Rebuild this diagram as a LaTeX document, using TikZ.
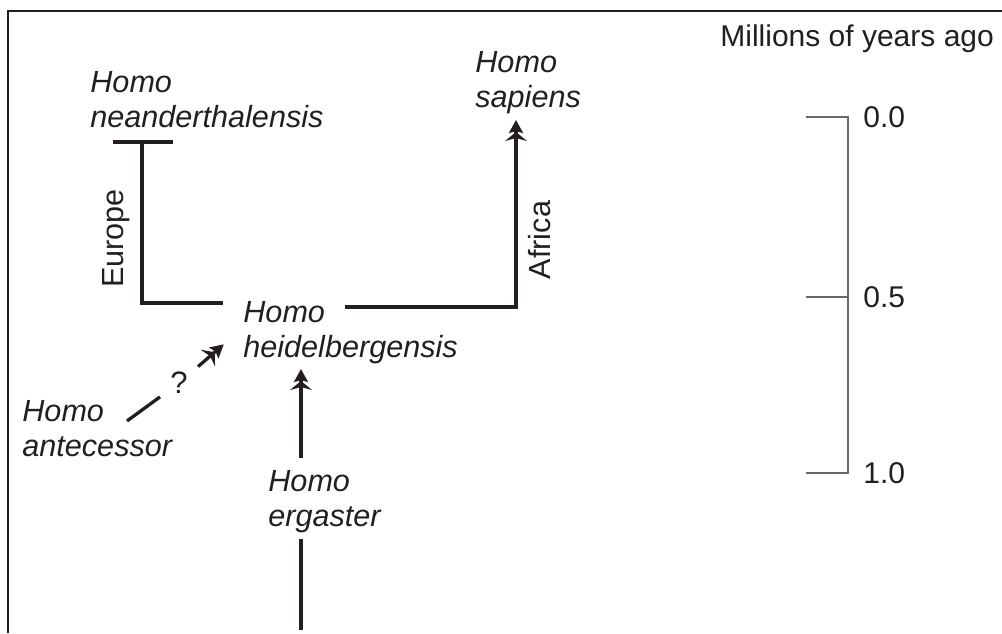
\documentclass[tikz,border=0pt]{standalone}
\usepackage{fontspec}
\setmainfont{Liberation Sans}
\usepackage{tikz}
\usetikzlibrary{arrows.meta}
\definecolor{ink}{RGB}{35,31,32}
\definecolor{rule}{RGB}{105,105,105}

\begin{document}
\begin{tikzpicture}[x=0.5pt, y=-0.5pt,
    branch/.style={ink, line width=1.65pt},
    tree/.style={-{Stealth[length=4.5pt,width=11pt,inset=1.5pt,sep=-0.5pt]Stealth[length=6.5pt,width=7pt,inset=1pt,sep=-0.5pt]}},
    species/.style={anchor=north west, inner sep=0pt, align=left, text=ink,
        font=\fontsize{15.3}{17.3}\selectfont\itshape},
    region/.style={text=ink, inner sep=5.5pt, font=\fontsize{15.3}{17.3}\selectfont},
    scalelbl/.style={text=ink, inner sep=0pt, font=\fontsize{15}{17}\selectfont}]
    \useasboundingbox (0,0) rectangle (1002,633);
    \draw[ink, line width=1pt] (8,633) |- (1002,11);

    % species
    \node[species] (nean) at (90,71) {Homo\\neanderthalensis};
    \node[species] (sap) at (475,51) {Homo\\sapiens};
    \node[species] (heid) at (243,301) {Homo\\heidelbergensis};
    \node[species] (ante) at (22,400) {Homo\\antecessor};
    \node[species] (erg) at (268,470) {Homo\\ergaster};

    \coordinate (eu) at (223,303);
    \coordinate (nt) at (142,142);
    \coordinate (af) at (345,307);
    \coordinate (sp) at (516,121);
    \coordinate (at) at (127,421);
    \coordinate (hd) at (223,345);
    \coordinate (eg) at (301,458);
    \coordinate (hb) at (301,370);
    \coordinate (eb) at (301,539);
    \coordinate (ee) at (301,630);

    % branches
    \draw[branch] (eu) -| node[region, pos=0.7, sloped, above] (eur) {Europe} (nt);
    \draw[branch] ([xshift=-14.5pt]nt) -- ([xshift=15.5pt]nt);
    \draw[branch, tree] (af) -| node[region, pos=0.68, sloped, below] (afr) {Africa} (sp);
    \node[region, inner sep=5pt, font=\fontsize{15.5}{17}\selectfont] (q) at (179,383) {?};
    \draw[branch] (at) -- (q);
    \draw[branch, tree] (q) -- (hd);
    \draw[branch, tree] (eg) -- (hb);
    \draw[branch] (eb) -- (ee);

    % time scale
    \node[scalelbl, anchor=base west] (mya) at (720,46) {Millions of years ago};
    \draw[rule, line width=0.6pt] (806,117) -| (848,473) -- (806,473);
    \foreach \y/\t [count=\i] in {117/0.0, 297/0.5, 473/1.0} {
        \draw[rule, line width=0.6pt] (806,\y) -- (848,\y);
        \node[scalelbl, anchor=west] (tk\i) at (863,\y) {\t};
    }
\end{tikzpicture}
\end{document}
